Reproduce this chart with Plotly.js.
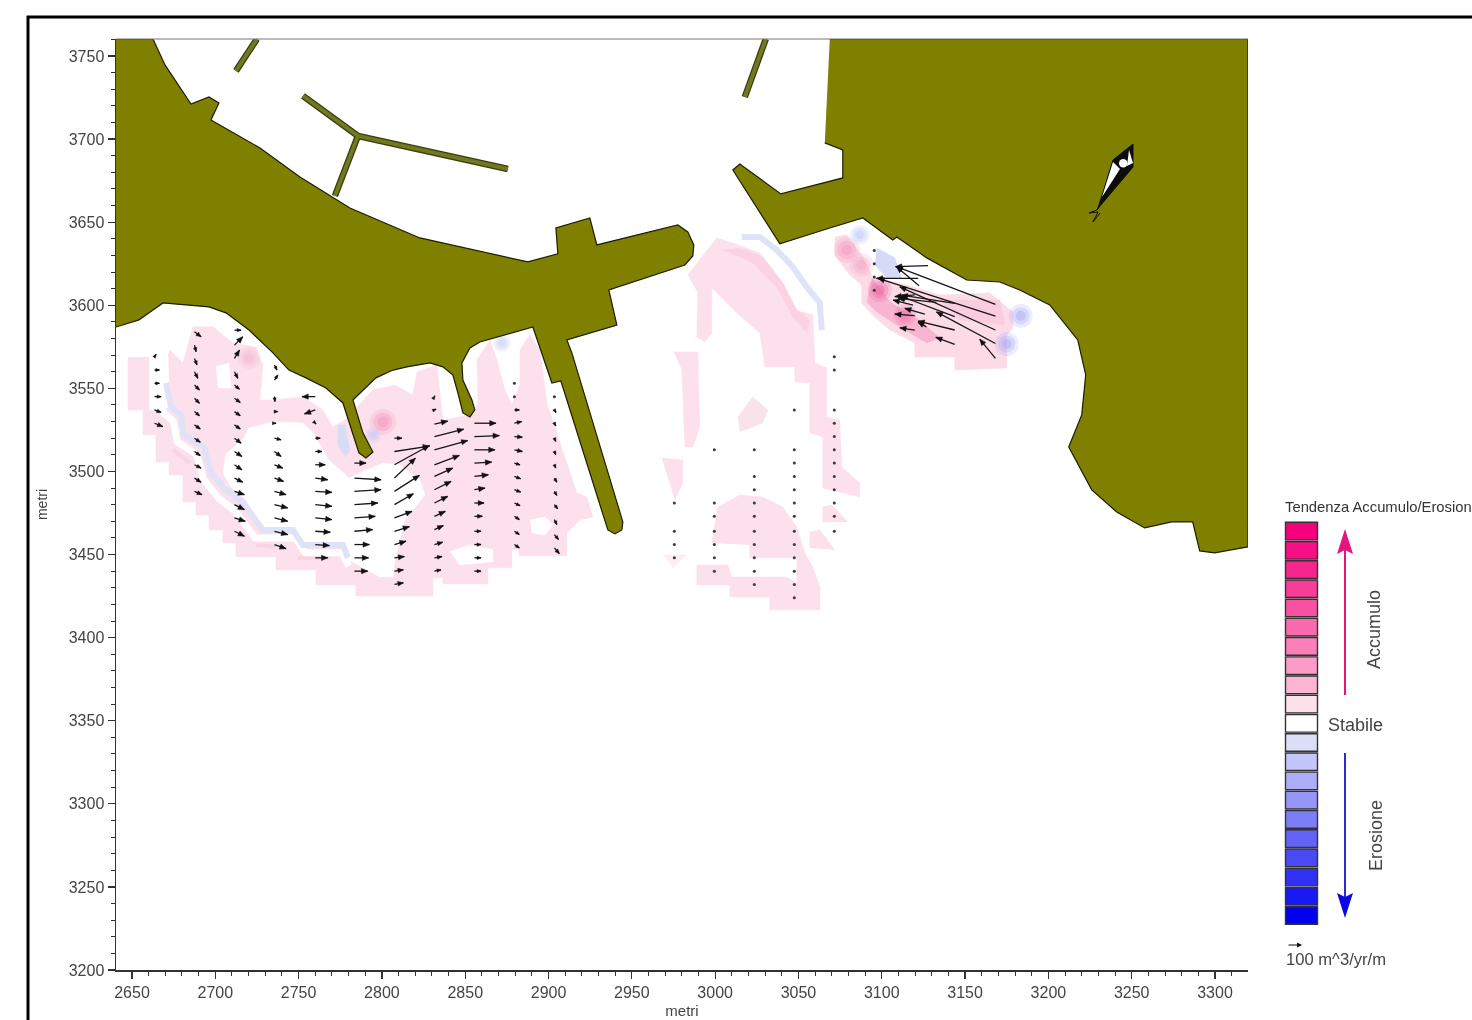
<!DOCTYPE html>
<html>
<head>
<meta charset="utf-8">
<script src="https://cdn.plot.ly/plotly-3.0.1.min.js"></script>
<style>html,body{margin:0;padding:0;background:#fff;overflow:hidden}#chart{width:1472px;height:1020px;filter:blur(0.45px)}</style>
</head>
<body>
<div id="chart"></div>
<script>
// ---------- land (metres) ----------
const landLeftX = [2640.4,2662.6,2669.8,2677.6,2685.4,2696.2,2702.2,2697.4,2726.8,2750.8,2780.8,2822.8,2887.6,2905.6,2904.4,2924.8,2929,2977.6,2983.6,2987.2,2986.6,2981.8,2936.2,2941,2911,2914,2944.6,2944,2939.8,2935.6,2908,2907.4,2902,2890.6,2858.8,2852.8,2848,2848.6,2854,2855.8,2852.8,2848.6,2845.6,2842.6,2836.6,2828.8,2815,2806.6,2796.4,2782.6,2788.6,2794.6,2790.4,2786.2,2776.6,2766.4,2754.4,2744.2,2734.6,2720.2,2706.4,2696.2,2682.4,2668.6,2662.6,2654.2,2640.4];
const landLeftY = [3760.2,3760.2,3744.6,3732.6,3721.1,3725.3,3721.7,3711.5,3694.6,3677.2,3658.5,3640.5,3626.1,3630.9,3646.5,3652.5,3636.3,3648.3,3644.1,3636.3,3629.7,3624.2,3609.2,3588.1,3579.1,3571.3,3469.6,3464.8,3462.4,3464.8,3553.2,3554.4,3553.2,3586.9,3577.9,3574.3,3565.3,3555,3543,3537,3532.8,3535.2,3547.2,3558,3562.9,3565.3,3562.9,3561,3556.3,3543,3523.2,3511.7,3508.1,3511.1,3541.2,3550.2,3556.3,3561,3571.3,3585.1,3595.4,3599,3600.2,3601.4,3597.2,3591.2,3586.9];
const landRightX = [3068.8,3319.8,3319.8,3299.8,3290.8,3286.6,3274,3257.8,3241,3226,3212.2,3220,3222.4,3217.6,3200.8,3182.8,3170.8,3151,3127,3109,3106.6,3088.6,3068.8,3038.8,3010.6,3014.8,3039.4,3076.6,3076.6,3065.8];
const landRightY = [3760.2,3760.2,3454.6,3451,3452.2,3469.6,3469.6,3466,3475.6,3488.9,3514.7,3534,3558.1,3579.1,3600.2,3609.2,3614,3615.2,3628.5,3641.1,3639.3,3652.5,3646.5,3636.9,3681.4,3685,3667,3676.6,3693.4,3697.7];
const pierX = [2725,2712.4,null,2752.6,2785.6,2875.6,null,2785.6,2771.8,null,3030.4,3017.8];
const pierY = [3760.2,3741,null,3726,3701.9,3682,null,3701.9,3665.8,null,3760.2,3725.3];

// ---------- accumulation (pink) areas ----------
const pinkLeftX = [2647.6,2647.6,2656.6,2656.6,2664.4,2664.4,2672.2,2672.2,2680.6,2680.6,2688.4,2688.4,2696.2,2696.2,2704.6,2704.6,2712.4,2712.4,2736.4,2736.4,2760.4,2760.4,2784.4,2784.4,2830.6,2830.6,2836.6,2836.6,2863.6,2863.6,2878,2878,2882.2,2882.2,2911,2911,2918.8,2926.6,2923,2917,2911,2899,2894.8,2888.8,2882.8,2882.8,2878,2873.8,2869,2864.8,2857,2857.6,2855.8,2846.8,2836.6,2833,2821,2818.6,2807.8,2794.6,2777.8,2770.6,2764.6,2752.6,2734.6,2726.8,2728.6,2724.4,2710.6,2698.6,2686.6,2680.6,2672.8,2663.8,2660.8];
const pinkLeftY = [3568.9,3537,3537,3522,3522,3505.7,3505.7,3497.9,3497.9,3481.6,3481.6,3473.8,3473.8,3464.8,3464.8,3457,3457,3448.6,3448.6,3440.7,3440.7,3431.7,3431.7,3425.1,3425.1,3436,3436,3432.3,3432.3,3442,3442,3452.8,3452.8,3449.2,3449.2,3463,3470.8,3472.6,3484.6,3487,3505.1,3541.2,3573.1,3582.1,3573.1,3552,3540,3549,3567.1,3579.1,3567.1,3543,3535.2,3532.8,3531,3564.1,3559.9,3546,3552,3549,3531,3526.8,3537,3544.8,3543,3543,3564.1,3574.9,3577.3,3587,3587,3565.3,3573.1,3552,3568.9];
const pinkArcX = [2983.6,3001,3010.6,3026.8,3040.6,3047.8,3058.6,3059.8,3067,3067,3074.8,3076,3086.8,3086.8,3064.6,3064.6,3056.8,3056.8,3047.8,3047.8,3029.8,3026.8,3013,2998,2998,2993.8,2989,2989.6];
const pinkArcY = [3618.2,3640.5,3637.5,3631.5,3613.4,3597.2,3594.2,3565.3,3562.3,3532.8,3531,3502.7,3493.1,3484.6,3490.1,3520.8,3523.2,3553.2,3553.9,3562.9,3562.9,3583.3,3595.4,3610.4,3583.3,3577.9,3580.9,3607.4];
const pinkColX = [2975.2,2989.6,2990.8,2986.6,2981.8,2980];
const pinkColY = [3571.9,3571.9,3526.8,3514.7,3514.7,3561.1];
const pinkEggX = [3013.6,3022.6,3031.6,3028.6,3014.8];
const pinkEggY = [3532.8,3544.8,3537,3529.2,3523.8];
const pinkWedgeX = [2968,2980.6,2980.6,2975.8];
const pinkWedgeY = [3508.1,3506.9,3493.1,3482.9];
const pinkDomeX = [2998,3001.6,3014.8,3028.6,3040.6,3049,3053.8,3058.6,3062.8,3062.8,3032.8,3032.8,3008.8,3008.8,2989,2989,3007.6,3010,3043,3049,3049,3020.8,3020.8];
const pinkDomeY = [3456.9,3478.6,3485.8,3484.6,3478.6,3466.6,3451,3442.5,3430.5,3416.7,3416.7,3424.5,3424.5,3431.7,3431.7,3443.7,3443.7,3436.5,3436.5,3432.9,3448,3448,3455.8];
const pinkSmallAX = [3056.8,3056.8,3062.8,3071.8];
const pinkSmallAY = [3454,3463.6,3464.8,3452.8];
const pinkSmallBX = [3064.6,3064.6,3070,3079.6];
const pinkSmallBY = [3469.6,3478.6,3479.8,3469.6];
const pinkSmallCX = [2968.6,2983,2974.6];
const pinkSmallCY = [3449.8,3449.8,3441.9];
const pinkRightX = [3071.8,3079,3088.6,3094.6,3115,3134.8,3164.8,3178.6,3178.6,3175,3175,3143.8,3143.8,3119.8,3119.8,3104.8,3095.8,3088,3088,3080.8,3071.8];
const pinkRightY = [3641.1,3642.3,3629.1,3617,3612.2,3606.2,3607.4,3596,3586.3,3582.1,3562.3,3561.1,3568.9,3568.9,3577.3,3585.1,3592.9,3601.4,3612.2,3618.2,3630.3];
const midPinkX = [3134.8,3170.8,3173.8,3146.8];
const midPinkY = [3603.2,3603.2,3588.2,3591.2];
const hotPinkX = [3094,3104.8,3121,3134.8,3127,3109,3097,3091];
const hotPinkY = [3616.4,3602,3592.4,3580.3,3577.3,3588.1,3596,3602];
const arcStreakX = [3004.6,3014.8,3028.6,3040.6,3049,3056.8,3055,3046.6,3037,3022.6];
const arcStreakY = [3633.3,3634.5,3629.1,3613.4,3597.2,3591.2,3583.3,3592.9,3611,3625.4];
const streakX = [2674.6,2684.8,null,2724.4,2736.4,null,2749.6,2768.8];
const streakY = [3512.9,3505.1,null,3455.8,3454.6,null,3448,3448];

// ---------- stable gaps inside the pink ----------
const gapAX = [2717.2,2720.2,2734.6,2752.6,2758.6,2768.2,2780.2,2800.6,2810.8,2822.8,2825.8,2813.8,2807.8,2806.6,2798.8,2780.2,2776.6,2752.6,2746.6,2728.6,2718.4,2709.4,2704.6,2706.4];
const gapAY = [3520.2,3526.2,3529.8,3529.2,3523.2,3506.9,3496.1,3505.1,3503.9,3494.9,3485.8,3470.8,3446.7,3436.5,3436.5,3446.7,3457,3457,3466.6,3466.6,3482.9,3490.7,3498.9,3510.6];
const gapBX = [2660.2,2671.6,2672.8,2666.8,2660.2];
const gapBY = [3570,3570,3539,3537,3537];
const gapCX = [2700.4,2708.2,2709.4,2701.6];
const gapCY = [3562.9,3565.3,3550.2,3550.2];
const gapDX = [2888.8,2897.8,2902.6,2897.8,2890];
const gapDY = [3470.8,3472.6,3467.8,3461.8,3463];
const gapEX = [2840.8,2852.8,2866.6,2866.6,2846.8];
const gapEY = [3451.6,3455.8,3452.8,3445.6,3443.7];
const gapStripX = [2666,2669,2675,2677,2689,2693,2702,2712,2724,2748,2754,2776,2780];
const gapStripY = [3550,3535,3530,3518,3510,3495,3484,3476,3460,3460,3451,3451,3443];

// ---------- erosion (blue) areas ----------
const blueBandAX = [2670.4,2673.4,2679.4,2681.2,2693.2,2697.4,2706.4,2716.6,2728.6,2746.6,2752.6,2776.6,2779.6];
const blueBandAY = [3553.2,3538.8,3534,3522,3514.7,3499.1,3488.9,3481,3464.8,3464.8,3455.8,3455.8,3448];
const blueBandBX = [3016,3026.8,3037,3046.6,3055,3062.8,3064];
const blueBandBY = [3641.1,3641.1,3633.3,3623,3611,3601.4,3585.1];
const bluePatchAX = [2773.6,2777.8,2780.8,2777.8,2773.6];
const bluePatchAY = [3528,3528,3512.9,3508.7,3516];
const bluePatchBX = [3097,3107.8,3112,3103,3095.8];
const bluePatchBY = [3634.5,3628.5,3616.4,3616.4,3624.2];

// ---------- soft spots ----------
const spotX = [2720.2,2800.6,3079,3088,3098.8,3113.8,3183.4,3175,2872,2794.6,3086.8];
const spotY = [3568.3,3529.8,3633.3,3624.2,3609.2,3594.2,3593.6,3576.7,3577.3,3522,3642.3];
const spotSize = [22,26,26,24,24,22,24,24,18,16,20];
const spotColor = ['#f7b4d0','#f590bb','#f596be','#f6a6c6','#ee60a0','#f074ac','#a4a8f4','#a4a8f4','#c8ccf8','#c4c8f6','#bcc8f4'];

// ---------- transport arrows: column x, row y, components in the same units ----------
const col1X = 2663.5;
const col1Y = [3569,3561,3553,3545,3537,3529];
const col1U = [1,3,3,4,4,5];
const col1V = [1.5,0,0,0,-1.5,-2];
const col2X = 2687.5;
const col2Y = [3584,3576,3568,3560,3552,3544,3536,3528,3520,3512,3504,3496,3488];
const col2U = [4,1,1.5,2,3,3,3,3.5,3.5,3.5,4,4,4.5];
const col2V = [-3,-4,-4,-4,-3,-3,-2.5,-2.5,-2.5,-2.5,-2,-2.5,-2];
const col3X = 2711.5;
const col3Y = [3585,3576,3568,3560,3552,3544,3536,3528,3520,3512,3504,3496,3488,3480,3472,3464];
const col3U = [4,5,3,2,3,3.5,3.5,3.5,4,4.5,4.5,5,6,6,6.5,6];
const col3V = [0,5,5,-4,-2.5,-2.5,-2.5,-2.5,-3,-3,-3,-2.5,-2,-3,-2,-3];
const col4X = 2735.5;
const col4Y = [3564,3555,3545,3536,3529,3520,3512,3504,3496,3488,3480,3472,3464,3456];
const col4U = [1.5,2,0.3,2,1,4,4,5,5.5,7,8,8,8,7];
const col4V = [-3,3,-3,0,0,-1,-3,-2,-2,-2,-2,-2,-2,-2.5];
const col5X = 2760;
const col5Y = [3545,3537,3529,3520,3512,3504,3496,3488,3480,3472,3464,3456,3448];
const col5U = [-8,-6.5,0.5,3,4,6,7.5,10,10,10,9,8.5,7.5];
const col5V = [0,-2.4,-0.5,0,0,0,-1,-0.6,-1,-1,-0.6,-0.6,0];
const col6X = 2783.5;
const col6Y = [3505,3496,3488,3480,3472,3464,3456,3448,3440];
const col6U = [7,16,16,14,12.5,11,9,8.5,8];
const col6V = [0,-1,1,1,1,1,0,0,0];
const col7X = 2807.5;
const col7Y = [3520,3512,3504,3496,3488,3480,3472,3464,3456,3448,3440,3432];
const col7U = [4.5,21,21,12.6,15,11.4,10.6,9,7,6,5.4,5.4];
const col7V = [0,3.2,11.6,12,9.6,6.6,4,2.8,2,0.8,0.8,1];
const col8X = 2831.5;
const col8Y = [3545,3537,3528.5,3521,3513,3504,3497,3489,3481,3473,3465,3456,3448,3440];
const col8U = [0.3,1,8,17.6,20,15,11,10,8,6.6,5.4,5,4.6,4];
const col8V = [0.5,0.5,1.8,4.4,5.6,5.6,5,5,4,3,2.4,1.4,0.8,0.8];
const col9X = 2855.5;
const col9Y = [3529,3521,3513,3505,3497,3489,3481,3473,3464,3456,3448,3440];
const col9U = [13,15,12.4,10.4,8.4,6.4,5.8,4.8,4,4,4,4];
const col9V = [0,0.6,0,0.6,1,1,0,0,0,0,0,0];
const col10X = 2879.5;
const col10Y = [3537,3529,3521,3513,3505,3497,3489,3481,3473,3464,3456];
const col10U = [3,4.4,4.8,4.8,3.4,3.8,3.8,3.4,3,3,3];
const col10V = [0,1,-0.4,-1,-1,-1.4,-1.4,-1.6,-2,-2,-2];
const col11X = 2903.5;
const col11Y = [3537,3529,3520,3512,3504,3496,3488,3480,3471,3462,3454];
const col11U = [1,0.8,0.8,0.8,0.8,1.5,1.5,2,1.5,2.5,3];
const col11V = [-1.6,-1.6,-2,-2,-2,-2.5,-2.5,-2.5,-3,-3,-3.5];

// the strong arrows near the eastern shore (tail and components)
const eastX = [3127.8,3168.2,3122.4,3121.8,3168.2,3168.2,3168.2,3168.2,3143.8,3143.8,3143.8,3132.8,3125.8,3119.8,3126.8,3119.8,3143.8,3118.8,3119.8];
const eastY = [3623.8,3600.5,3611.8,3616.2,3593.5,3585.1,3577,3568,3601.1,3593.1,3585.1,3601.7,3594.7,3593.7,3587,3585,3576.5,3600.1,3606.2];
const eastU = [-19.6,-59.4,-13.6,-25,-70.4,-57.4,-35.4,-9.4,-32,-33,-22,-23,-12,-12,-5,-9,-11.4,-12,-12];
const eastV = [-0.6,22.7,11.4,0,22.7,26,19,11.6,5,12.6,5.4,2.4,3.4,1,2.6,1.4,4.2,3,-1];

// ---------- almost null vectors, drawn as dots ----------
const dotX = [2975.5,2975.5,2975.5,2975.5,2999.5,2999.5,2999.5,2999.5,2999.5,2999.5,2999.5,3023.5,3023.5,3023.5,3023.5,3023.5,3023.5,3023.5,3023.5,3023.5,3023.5,3047.5,3047.5,3047.5,3047.5,3047.5,3047.5,3047.5,3047.5,3047.5,3047.5,3047.5,3047.5,3047.5,3071.5,3071.5,3071.5,3071.5,3071.5,3071.5,3071.5,3071.5,3071.5,3071.5,3071.5,3071.5,3095.5,3095.5,3095.5,3095.5,2879.5,2879.5,2903.5];
const dotY = [3481,3464,3456,3448,3513,3481,3473,3464,3456,3448,3440,3513,3497,3489,3481,3473,3464,3456,3448,3440,3432,3537,3513,3505,3497,3489,3481,3473,3464,3456,3448,3440,3432,3424,3569,3561,3537,3529,3521,3513,3505,3497,3489,3481,3473,3464,3633,3625,3617,3609,3553,3545,3545];

// ---------- legend ----------
const legendColors = ['#f5007d','#f80f85','#f7268f','#f73d97','#f852a2','#f96aad','#f980b9','#fb9cc7','#fcb5d3','#fce0ea','#ffffff','#dcdef8','#c4c6fa','#adadf9','#9696f8','#7d7df7','#6363f6','#4a4af5','#3131f4','#1818f3','#0000ee'];
const legendTitle = 'Tendenza Accumulo/Erosion';
const legendUp = 'Accumulo';
const legendMid = 'Stabile';
const legendDown = 'Erosione';
const legendScale = '100 m^3/yr/m';
const axisName = 'metri';

// ---------- drawing ----------
const PINK='#fce0eb', WHITE='#ffffff', BLUE='#e0e3f7', OLIVE='#808000', INK='#444444';
const FONT='Liberation Sans, Arial, sans-serif';
const PLOT={l:116,r:1248,t:39,b:970};
const fx=p=>(p-PLOT.l)/(PLOT.r-PLOT.l);
const fy=p=>(PLOT.b-p)/(PLOT.b-PLOT.t);
const base={hoverinfo:'skip',showlegend:false,type:'scatter'};
const poly=(x,y,c,lc,lw)=>Object.assign({},base,{x,y,mode:'lines',fill:'toself',fillcolor:c,line:{color:lc||c,width:lw===undefined?0.5:lw}});
const line=(x,y,c,w)=>Object.assign({},base,{x,y,mode:'lines',line:{color:c,width:w}});
const spots=(k,op)=>Object.assign({},base,{x:spotX,y:spotY,mode:'markers',marker:{size:spotSize.map(s=>s*k),color:spotColor,opacity:op,line:{width:0}}});

// arrows: shafts as one line trace, heads as one filled trace, both on the data axes
const shaftX=[],shaftY=[],headX=[],headY=[];
function addArrow(x,y,u,v){
  const len=Math.hypot(u,v)||1, ux=u/len, uy=v/len;
  const hl=Math.min(3.8,Math.max(2.2,0.6*len)), hw=hl*0.42;
  const tx=x+u, ty=y+v, bx=tx-ux*hl, by=ty-uy*hl;
  shaftX.push(x,tx,null); shaftY.push(y,ty,null);
  headX.push(tx,bx-uy*hw,bx+uy*hw,tx,null);
  headY.push(ty,by+ux*hw,by-ux*hw,ty,null);
}
[[col1X,col1Y,col1U,col1V],[col2X,col2Y,col2U,col2V],[col3X,col3Y,col3U,col3V],[col4X,col4Y,col4U,col4V],[col5X,col5Y,col5U,col5V],[col6X,col6Y,col6U,col6V],[col7X,col7Y,col7U,col7V],[col8X,col8Y,col8U,col8V],[col9X,col9Y,col9U,col9V],[col10X,col10Y,col10U,col10V],[col11X,col11Y,col11U,col11V]].forEach(c=>{
  c[1].forEach((y,i)=>addArrow(c[0],y,c[2][i],c[3][i]));
});
eastX.forEach((x,i)=>addArrow(x,eastY[i],eastU[i],eastV[i]));

const traces=[
  poly(pinkLeftX,pinkLeftY,PINK), poly(pinkArcX,pinkArcY,PINK), poly(pinkColX,pinkColY,PINK),
  poly(pinkEggX,pinkEggY,'#fae2ea'), poly(pinkWedgeX,pinkWedgeY,PINK), poly(pinkDomeX,pinkDomeY,PINK),
  poly(pinkSmallAX,pinkSmallAY,PINK), poly(pinkSmallBX,pinkSmallBY,PINK), poly(pinkSmallCX,pinkSmallCY,'#fdeef3'),
  poly(pinkRightX,pinkRightY,'#fcdbe7'), poly(midPinkX,midPinkY,'#f9ccde'), poly(hotPinkX,hotPinkY,'#f8b4d0'),
  poly(arcStreakX,arcStreakY,'#fad2e2'), line(streakX,streakY,'#f9d3e2',4),
  poly(gapAX,gapAY,WHITE), poly(gapBX,gapBY,WHITE), poly(gapCX,gapCY,WHITE), poly(gapDX,gapDY,WHITE), poly(gapEX,gapEY,WHITE),
  line(gapStripX,gapStripY,WHITE,7),
  line(blueBandAX,blueBandAY,BLUE,6), line(blueBandBX,blueBandBY,BLUE,6),
  poly(bluePatchAX,bluePatchAY,'#d8dcf6'), poly(bluePatchBX,bluePatchBY,'#d6daf6'),
  spots(1,0.22), spots(0.72,0.3), spots(0.42,0.4),
  line(pierX,pierY,'#3a3a10',6.5), line(pierX,pierY,'#6f7a1e',4),
  poly(landLeftX,landLeftY,OLIVE,'#1c1c00',1.2), poly(landRightX,landRightY,OLIVE,'#1c1c00',1.2),
  Object.assign({},base,{x:dotX,y:dotY,mode:'markers',marker:{size:3,color:'#3a3a3a'}}),
  line(shaftX,shaftY,'#161616',1.3),
  Object.assign({},base,{x:headX,y:headY,mode:'lines',fill:'toself',fillcolor:'#111',line:{color:'#111',width:0.5}})
];

const annotations=[];
const paperText=(t,px,py,size,opts)=>Object.assign({xref:'paper',yref:'paper',x:fx(px),y:fy(py),text:t,showarrow:false,font:{family:FONT,size:size,color:INK},xanchor:'center',yanchor:'middle',borderpad:0},opts||{});
annotations.push(paperText(legendTitle,1284,507,14.8,{xanchor:'left',font:{family:FONT,size:14.8,color:'#333'}}));
annotations.push(paperText(legendUp,1374,630,18,{textangle:-90}));
annotations.push(paperText(legendMid,1355,725,18));
annotations.push(paperText(legendDown,1376,836,18,{textangle:-90}));
annotations.push(paperText(legendScale,1285,959,16.6,{xanchor:'left'}));
annotations.push({xref:'paper',yref:'paper',x:fx(1302),y:fy(945),ax:-15,ay:0,text:' ',font:{size:1},showarrow:true,arrowhead:2,arrowsize:1,arrowwidth:1,arrowcolor:'#111',standoff:0,startstandoff:0});

const pth=pts=>'M'+pts.map(p=>fx(p[0])+','+fy(p[1])).join('L')+'Z';
const shapes=[
  {type:'rect',xref:'paper',yref:'paper',x0:fx(28),x1:fx(1490),y0:fy(1040),y1:fy(17),line:{color:'#000',width:3},layer:'below'},
  {type:'line',xref:'paper',yref:'paper',x0:0,x1:1,y0:1,y1:1,line:{color:'#777',width:1}}
];
legendColors.forEach((c,i)=>{
  const top=522.3+i*19.22;
  shapes.push({type:'rect',xref:'paper',yref:'paper',x0:fx(1285.5),x1:fx(1317.5),y0:fy(top+17.6),y1:fy(top),fillcolor:c,line:{color:'#333',width:1.4}});
});
// vertical legend arrows
shapes.push({type:'line',xref:'paper',yref:'paper',x0:fx(1345),x1:fx(1345),y0:fy(695),y1:fy(550),line:{color:'#e5157f',width:2}});
shapes.push({type:'path',xref:'paper',yref:'paper',path:pth([[1345,529],[1353,554],[1345,550],[1337,554]]),fillcolor:'#e5157f',line:{width:0}});
shapes.push({type:'line',xref:'paper',yref:'paper',x0:fx(1345),x1:fx(1345),y0:fy(753),y1:fy(898),line:{color:'#2a2ad8',width:2}});
shapes.push({type:'path',xref:'paper',yref:'paper',path:pth([[1345,918],[1353,893],[1345,897],[1337,893]]),fillcolor:'#0a0ae0',line:{width:0}});
// north arrow
shapes.push({type:'path',xref:'paper',yref:'paper',path:pth([[1133,144],[1113,160],[1099,205],[1097,210],[1100,206],[1133,167]]),fillcolor:'#0c0c0c',line:{color:'#0c0c0c',width:1}});
shapes.push({type:'path',xref:'paper',yref:'paper',path:pth([[1113,162],[1102,197],[1120,169]]),fillcolor:'#fff',line:{width:0}});
shapes.push({type:'path',xref:'paper',yref:'paper',path:pth([[1129,150],[1133,163],[1127,166]]),fillcolor:'#fff',line:{width:0}});
shapes.push({type:'circle',xref:'paper',yref:'paper',x0:fx(1119),x1:fx(1127.5),y0:fy(167.5),y1:fy(159),fillcolor:'#fff',line:{width:0}});
shapes.push({type:'path',xref:'paper',yref:'paper',path:'M'+[[1097,210],[1089,213],[1098,212],[1093,222],[1100,213]].map(p=>fx(p[0])+','+fy(p[1])).join('L'),line:{color:'#111',width:1}});

const axisBase={showgrid:false,zeroline:false,showline:true,linecolor:'#333',linewidth:1.5,ticks:'outside',ticklen:7,tickwidth:1.2,tickcolor:'#333',tickfont:{family:FONT,size:16,color:INK},tickmode:'linear',dtick:50,minor:{dtick:10,ticks:'outside',ticklen:4,tickwidth:1,tickcolor:'#333'},layer:'above traces'};
const layout={
  width:1472,height:1020,margin:{l:PLOT.l,r:1472-PLOT.r,t:PLOT.t,b:1020-PLOT.b,pad:0},
  paper_bgcolor:'#fff',plot_bgcolor:'#fff',showlegend:false,
  xaxis:Object.assign({},axisBase,{range:[2640.4,3319.8],tick0:2650,title:{text:axisName,standoff:6,font:{family:FONT,size:15,color:INK}}}),
  yaxis:Object.assign({},axisBase,{range:[3200,3760.2],tick0:3200,title:{text:axisName,standoff:18,font:{family:FONT,size:14,color:INK}}}),
  annotations,shapes
};
Plotly.newPlot('chart',traces,layout,{displayModeBar:false,staticPlot:true});
</script>
</body>
</html>
